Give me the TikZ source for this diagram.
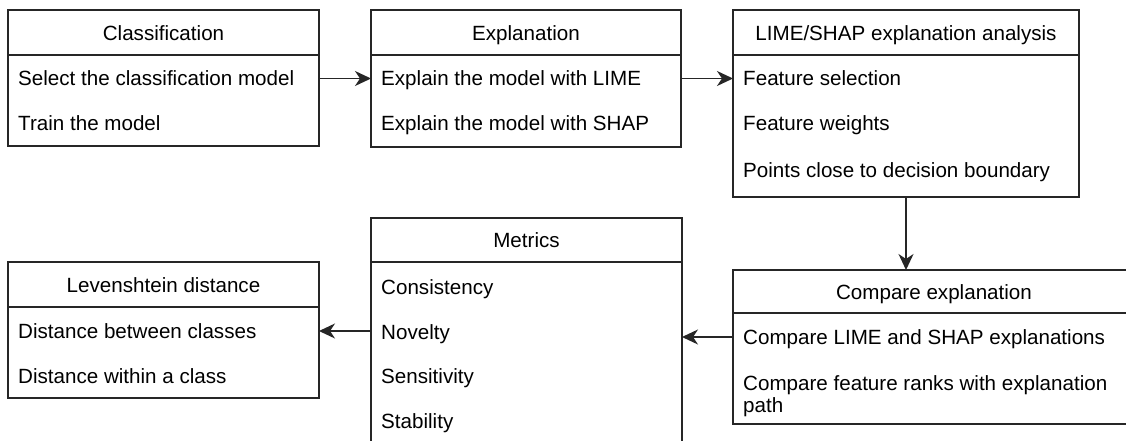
\documentclass[tikz,border=0pt]{standalone}
\usepackage{fontspec}
\setmainfont{Liberation Sans}
\usetikzlibrary{arrows.meta,calc}
\begin{document}
\begin{tikzpicture}[x=1pt,y=-1pt,
  box/.style={draw=black!85, line width=1.6pt, rectangle, inner sep=0pt, outer sep=0pt, anchor=north west},
  rule/.style={draw=black!85, line width=1.6pt},
  head/.style={anchor=base, inner sep=0pt, font=\fontsize{20.6}{22}\selectfont},
  item/.style={anchor=west, inner sep=0pt, text height=14.8pt, text depth=0pt, font=\fontsize{20.6}{22}\selectfont},
  itemml/.style={anchor=base west, inner sep=0pt, align=left, font=\fontsize{20.6}{22}\selectfont},
  link/.style={draw=black!85, line width=1.6pt, -{Stealth[length=16pt,width=15pt,inset=5pt]}}]

\useasboundingbox (0,0) rectangle (1126,441);
\fill[white] (0,0) rectangle (1126,441);
\clip (0,0) rectangle (1126,441);

% Classification
\node[box, minimum width=311pt, minimum height=136pt] (cls) at (8,10) {};
\draw[rule] ($(cls.north west)+(0,45)$) -- ($(cls.north east)+(0,45)$);
\node[head] (clsh) at ($(cls.north)+(0,31)$) {Classification};
\node[item] (clsa) at (18,78.5) {Select the classification model};
\node[item] (clsb) at (18,123) {Train the model};

% Explanation
\node[box, minimum width=310pt, minimum height=137pt] (exp) at (371,10) {};
\draw[rule] ($(exp.north west)+(0,45)$) -- ($(exp.north east)+(0,45)$);
\node[head] (exph) at ($(exp.north)+(0,31)$) {Explanation};
\node[item] (expa) at (381,78.5) {Explain the model with LIME};
\node[item] (expb) at (381,123) {Explain the model with SHAP};

% LIME/SHAP explanation analysis
\node[box, minimum width=346pt, minimum height=187pt] (lime) at (733,10) {};
\draw[rule] ($(lime.north west)+(0,45)$) -- ($(lime.north east)+(0,45)$);
\node[head] (limeh) at ($(lime.north)+(0,31)$) {LIME/SHAP explanation analysis};
\node[item] (limea) at (743,78.5) {Feature selection};
\node[item] (limeb) at (743,123.5) {Feature weights};
\node[item] (limec) at (743,170) {Points close to decision boundary};

% Compare explanation
\node[box, minimum width=402pt, minimum height=154pt] (cmp) at (733,270) {};
\draw[rule] ($(cmp.north west)+(0,43)$) -- ($(cmp.north east)+(0,43)$);
\node[head] (cmph) at (934,299) {Compare explanation};
\node[item] (cmpa) at (743,337) {Compare LIME and SHAP explanations};
\node[itemml] (cmpb) at (743,412) {Compare feature ranks with explanation\\path};

% Metrics
\node[box, minimum width=311pt, minimum height=250pt] (met) at (371,218) {};
\draw[rule] ($(met.north west)+(0,44)$) -- ($(met.north east)+(0,44)$);
\node[head] (meth) at ($(met.north)+(0,29)$) {Metrics};
\node[item] (meta) at (381,287) {Consistency};
\node[item] (metb) at (381,332) {Novelty};
\node[item] (metc) at (381,376) {Sensitivity};
\node[item] (metd) at (381,421) {Stability};

% Levenshtein distance
\node[box, minimum width=311pt, minimum height=136pt] (lev) at (8,262) {};
\draw[rule] ($(lev.north west)+(0,45)$) -- ($(lev.north east)+(0,45)$);
\node[head] (levh) at ($(lev.north)+(0,30.5)$) {Levenshtein distance};
\node[item] (leva) at (18,331) {Distance between classes};
\node[item] (levb) at (18,376) {Distance within a class};

% Connectors
\draw[link] (cls.east |- clsa.west) -- (exp.west |- clsa.west);
\draw[link] (exp.east |- expa.west) -- (lime.west |- expa.west);
\draw[link] (lime.south) -- (lime.south |- cmp.north);
\draw[link] (cmp.west |- cmpa.west) -- (met.east |- cmpa.west);
\draw[link] (met.west |- leva.west) -- (lev.east |- leva.west);
\end{tikzpicture}
\end{document}
